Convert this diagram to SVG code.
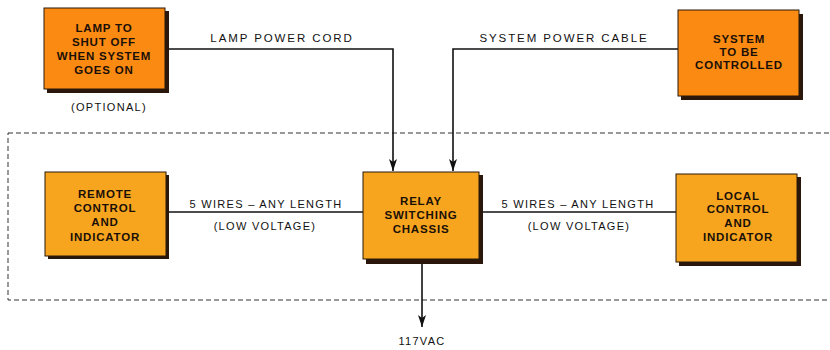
<svg xmlns="http://www.w3.org/2000/svg" width="830" height="350" viewBox="0 0 830 350">
<defs>
<marker id="arr" markerWidth="12" markerHeight="8" refX="12" refY="4" orient="auto" markerUnits="userSpaceOnUse" viewBox="0 0 12 8">
<path d="M0,0 L12,4 L0,8 L3,4 Z" fill="#111"/>
</marker>
<style>
.box{stroke:#2a1a0a;stroke-width:1}
.shadow{fill:#2b160c}
.o1{fill:#FA8A12}
.o2{fill:#F7A51F}
.bt{font-family:"Liberation Sans",Arial,sans-serif;font-weight:bold;font-size:11.5px;fill:#1a1008;text-anchor:middle;letter-spacing:0.8px}
.lt{font-family:"Liberation Sans",Arial,sans-serif;font-size:11px;fill:#111;text-anchor:middle;letter-spacing:1.3px}
.tt{font-size:11.5px;letter-spacing:1.9px}
.ln{stroke:#111;stroke-width:1.6;fill:none}
.dash{stroke:#333;stroke-width:1;fill:none;stroke-dasharray:5,3}
</style>
</defs>
<rect width="830" height="350" fill="#fff"/>
<rect class="dash" x="8" y="133" width="830" height="167"/>
<g id="connectors">
<polyline class="ln" points="166,49 393,49 393,171" marker-end="url(#arr)"/>
<polyline class="ln" points="678,49 453,49 453,171" marker-end="url(#arr)"/>
<line class="ln" x1="168" y1="212" x2="363" y2="212"/>
<line class="ln" x1="481" y1="212" x2="676" y2="212"/>
<line class="ln" x1="422" y1="263" x2="422" y2="327" marker-end="url(#arr)"/>
<text class="lt tt" x="282" y="42">LAMP POWER CORD</text>
<text class="lt tt" x="564" y="42">SYSTEM POWER CABLE</text>
<text class="lt" x="266" y="208">5 WIRES – ANY LENGTH</text>
<text class="lt" x="265" y="230">(LOW VOLTAGE)</text>
<text class="lt" x="578" y="208">5 WIRES – ANY LENGTH</text>
<text class="lt" x="579" y="230">(LOW VOLTAGE)</text>
<text class="lt" x="422" y="345">117VAC</text>
</g>
<g id="lamp">
<rect class="shadow" x="47" y="11" width="122" height="82"/>
<rect class="box o1" x="44" y="8" width="121" height="81"/>
<text class="bt" x="104" y="32">LAMP TO</text>
<text class="bt" x="104" y="46">SHUT OFF</text>
<text class="bt" x="104" y="60">WHEN SYSTEM</text>
<text class="bt" x="104" y="74">GOES ON</text>
<text class="lt" x="109" y="111">(OPTIONAL)</text>
</g>
<g id="system">
<rect class="shadow" x="681" y="14" width="122" height="86"/>
<rect class="box o1" x="678" y="10" width="121" height="86"/>
<text class="bt" x="739" y="43">SYSTEM</text>
<text class="bt" x="739" y="56">TO BE</text>
<text class="bt" x="739" y="69">CONTROLLED</text>
</g>
<g id="relay">
<rect class="shadow" x="366" y="175" width="117" height="89"/>
<rect class="box o2" x="363" y="172" width="116" height="87"/>
<text class="bt" x="421" y="205">RELAY</text>
<text class="bt" x="421" y="219">SWITCHING</text>
<text class="bt" x="421" y="233">CHASSIS</text>
</g>
<g id="remote">
<rect class="shadow" x="48" y="175" width="121" height="84"/>
<rect class="box o2" x="45" y="172" width="121" height="84"/>
<text class="bt" x="105" y="198">REMOTE</text>
<text class="bt" x="105" y="212">CONTROL</text>
<text class="bt" x="105" y="226">AND</text>
<text class="bt" x="105" y="241">INDICATOR</text>
</g>
<g id="local">
<rect class="shadow" x="679" y="177" width="122" height="89"/>
<rect class="box o2" x="676" y="174" width="121" height="88"/>
<text class="bt" x="738" y="200">LOCAL</text>
<text class="bt" x="738" y="213">CONTROL</text>
<text class="bt" x="738" y="227">AND</text>
<text class="bt" x="738" y="241">INDICATOR</text>
</g>
</svg>
